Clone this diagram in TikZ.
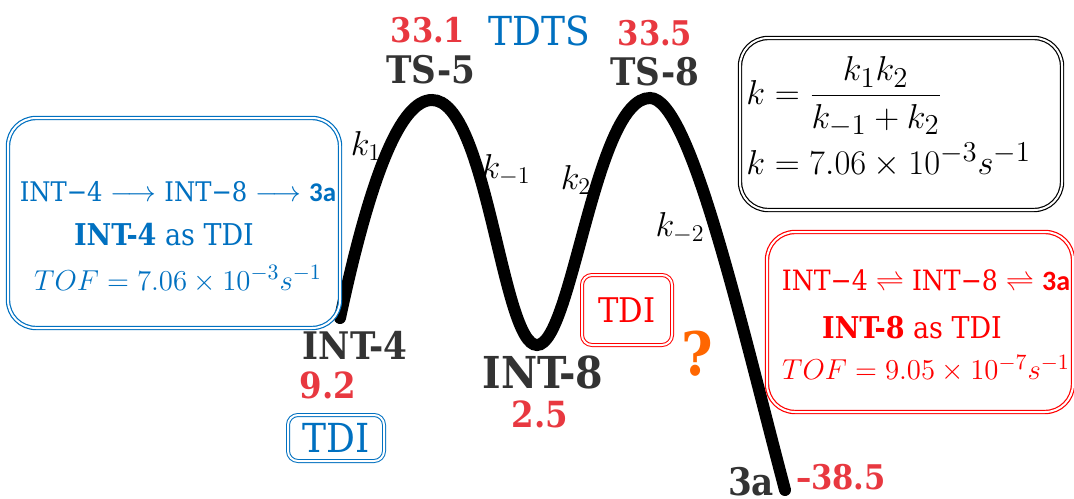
\documentclass[tikz,border=0pt]{standalone}
\usepackage{amsmath}
\usepackage[no-math]{fontspec}
\setmainfont{DejaVu Serif}
\newfontfamily\labelfont[Ligatures=TeX]{DejaVu Serif Condensed}
\newfontfamily\calfont{Carlito}
\usetikzlibrary{positioning}

\definecolor{tofblue}{RGB}{0,112,192}
\definecolor{tofred}{RGB}{255,0,0}
\definecolor{egred}{RGB}{232,56,64}
\definecolor{labgray}{RGB}{51,51,51}
\definecolor{qorange}{RGB}{255,102,0}

\begin{document}
\begin{tikzpicture}[x=0.5pt, y=-0.5pt, node distance=1pt,
    species/.style={font=\labelfont\fontsize{19}{22}\selectfont\bfseries, text=labgray, inner sep=0pt},
    energy/.style={font=\labelfont\fontsize{18}{22}\selectfont\bfseries, text=egred, inner sep=0pt},
    rate/.style={font=\fontsize{17.28}{19}\selectfont, inner sep=0pt},
    infobox/.style={draw, double, double distance=1pt, line width=0.6pt, rounded corners=14pt, inner sep=0pt},
    tdibox/.style={draw, double, double distance=1pt, line width=0.5pt, rounded corners=5pt, inner sep=0pt},
    boxtext/.style={align=center, inner sep=0pt}]

    \useasboundingbox (0,0) rectangle (1074,498);

    % stationary points of the profile
    \coordinate (int4) at (340,318);
    \coordinate (ts5) at (432,100);
    \coordinate (int8) at (537,345);
    \coordinate (ts8) at (650,98);
    \coordinate (end3a) at (785,490);

    % energy profile
    \draw[line width=6pt, line cap=round] (int4) .. controls (371,173) and (401,100) .. (ts5)
        .. controls (487,100) and (502,345) .. (int8)
        .. controls (572,345) and (595,98) .. (ts8)
        .. controls (690,98) and (740,320) .. (end3a);

    % rate constants
    \node[rate] (k1) at (366,146) {$k_1$};
    \node[rate] (km1) at (506,170) {$k_{-1}$};
    \node[rate] (k2) at (576,180) {$k_2$};
    \node[rate] (km2) at (680,228) {$k_{-2}$};

    % species and energies
    \node[species] (ts5lab) at (431,70) {TS-5};
    \node[energy, font=\labelfont\fontsize{17}{22}\selectfont\bfseries] (e5) at (428,30) {33.1};
    \node[text=tofblue, font=\labelfont\fontsize{20}{24}\selectfont, inner sep=0pt] (tdts) at (539,31) {TDTS};
    \node[species] (ts8lab) at (655,72) {TS-8};
    \node[energy, font=\labelfont\fontsize{17}{22}\selectfont\bfseries] (e8) at (655,33) {33.5};

    \node[species] (int4lab) at (355,345) {INT-4};
    \node[energy] (e4) at (328,385) {9.2};
    \node[species, font=\labelfont\fontsize{22}{24}\selectfont\bfseries] (int8lab) at (543,372) {INT-8};
    \node[energy] (e8b) at (540,414) {2.5};
    \node[species] (p3a) at (751,482) {3a};
    \node[energy, font=\labelfont\fontsize{17}{22}\selectfont\bfseries] (e3a) at (841,477) {--38.5};

    % TDI tags
    \node[tdibox, draw=tofblue, text=tofblue, font=\labelfont\fontsize{20}{24}\selectfont,
          minimum width=48pt, minimum height=23pt] (tdiblue) at (336,438) {TDI};
    \node[tdibox, draw=tofred, text=tofred, font=\labelfont\fontsize{17}{20}\selectfont,
          minimum width=45pt, minimum height=35pt] (tdired) at (627,310) {TDI};
    \node[text=qorange, font=\labelfont\fontsize{30}{34}\selectfont\bfseries, inner sep=0pt] (ques) at (697,354) {?};

    % INT-4 as TDI
    \node[infobox, draw=tofblue, minimum width=166pt, minimum height=105pt] (bluebox) at (174,223) {};
    \node[boxtext, text=tofblue] (bluetext) at (178,237) {%
        {\labelfont\fontsize{13.5}{16}\selectfont INT−4 $\longrightarrow$ INT−8 $\longrightarrow$ {\calfont\bfseries 3a}}\\[10pt]
        {\labelfont\fontsize{15}{18}\selectfont\hspace*{-14pt}{\bfseries INT-4} as TDI}\\[9pt]
        {\fontsize{15}{17}\selectfont $TOF=7.06\times10^{-3}s^{-1}$}};

    % overall rate constant
    \node[infobox, draw=black, minimum width=161pt, minimum height=86pt] (kbox) at (901,124) {};
    \node[boxtext, align=left, anchor=west] (ktext) at (746,117) {%
        {\fontsize{19}{21}\selectfont $k=\dfrac{k_1k_2}{k_{-1}+k_2}$}\\[2pt]
        {\fontsize{19}{21}\selectfont $k=7.06\times10^{-3}s^{-1}$}};

    % INT-8 as TDI
    \node[infobox, draw=tofred, minimum width=153pt, minimum height=90pt] (redbox) at (920,322) {};
    \node[boxtext, text=tofred] (redtext) at (926,326) {%
        {\labelfont\fontsize{14}{17}\selectfont INT−4 $\rightleftharpoons$ INT−8 $\rightleftharpoons$ {\calfont\bfseries 3a}}\\[12pt]
        {\labelfont\fontsize{15}{18}\selectfont\hspace*{-14pt}{\bfseries INT-8} as TDI}\\[7pt]
        {\fontsize{15}{17}\selectfont $TOF=9.05\times10^{-7}s^{-1}$}};

\end{tikzpicture}
\end{document}
